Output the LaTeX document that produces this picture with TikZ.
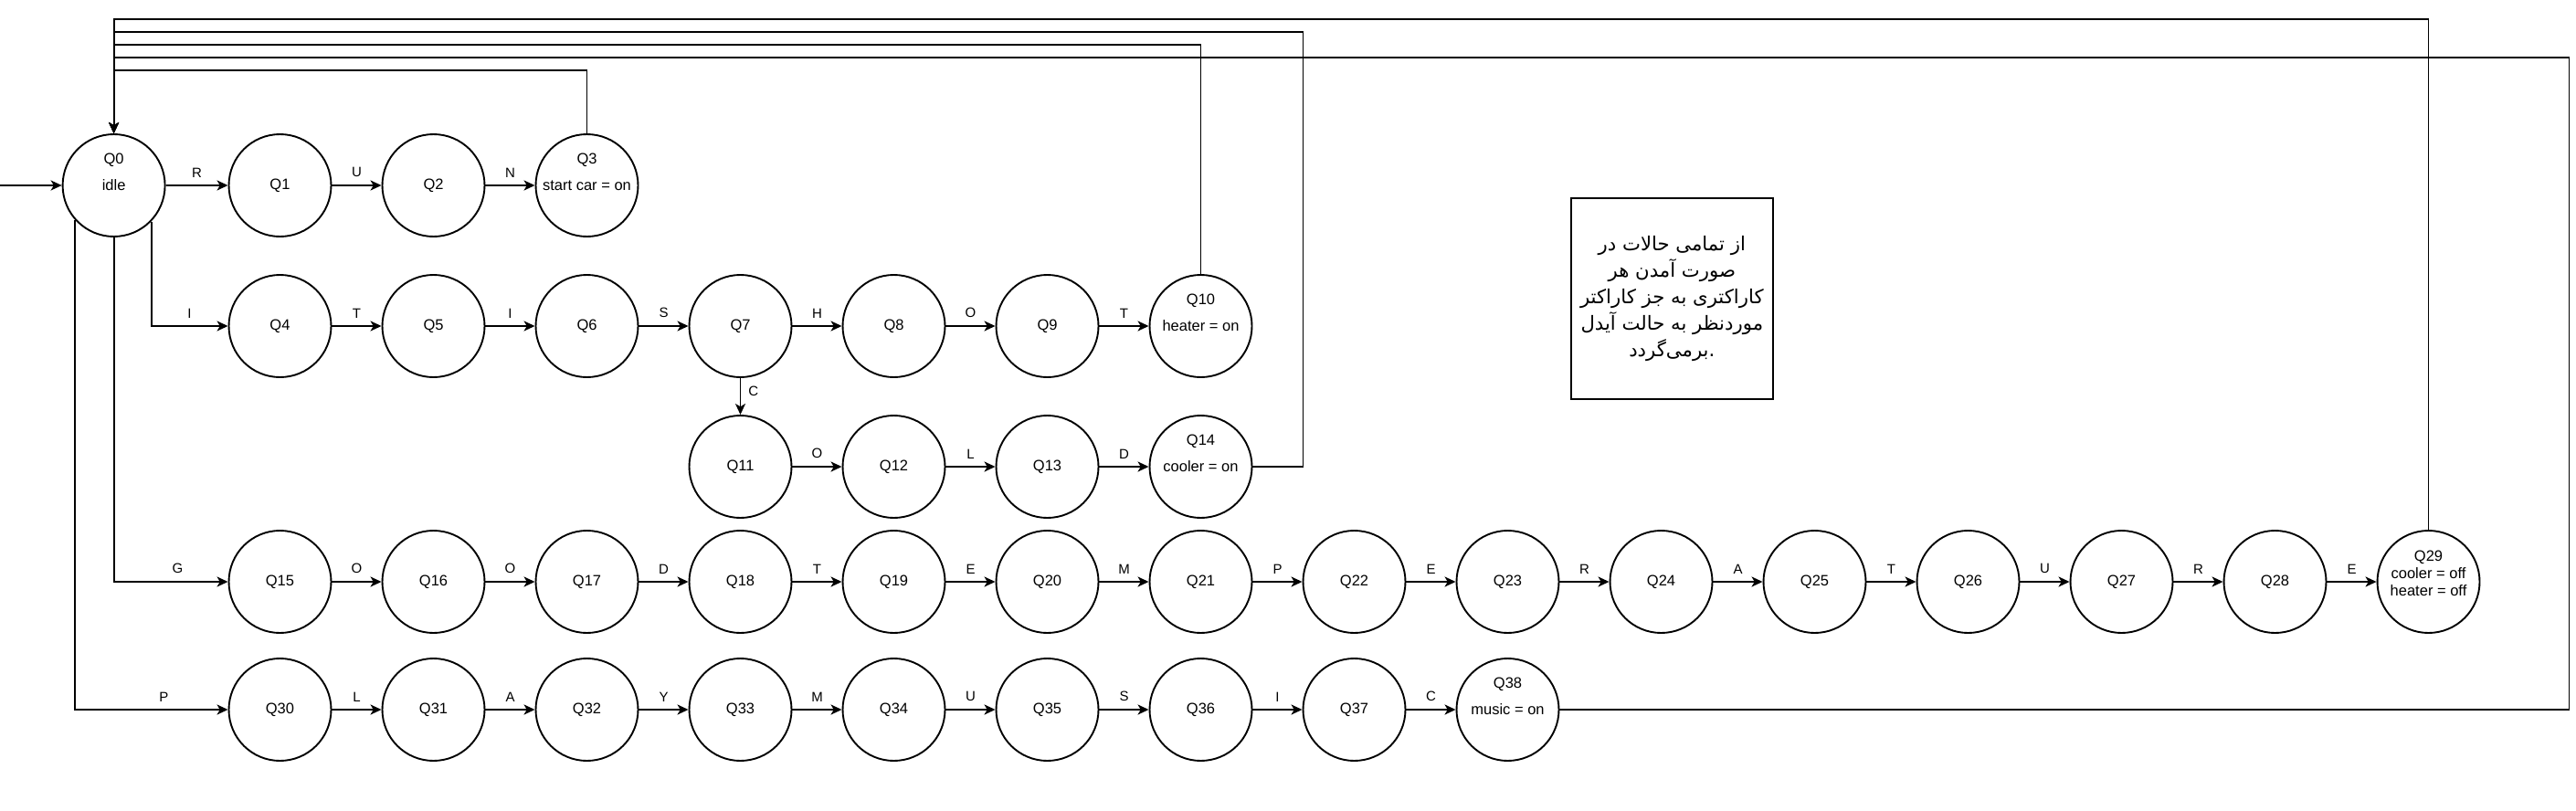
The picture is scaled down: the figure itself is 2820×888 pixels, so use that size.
\documentclass[tikz,border=0pt]{standalone}
\usepackage{fontspec}
\setmainfont{Liberation Sans}
\newfontfamily\persianfont[Script=Arabic]{DejaVu Sans}
\TeXXeTstate=1
\usetikzlibrary{arrows.meta}
\begin{document}
\begin{tikzpicture}[x=0.5pt,y=-0.5pt,
  st/.style={circle, draw, line width=0.95pt, minimum size=56pt, inner sep=0pt, font=\fontsize{8.25pt}{10pt}\selectfont},
  ed/.style={line width=0.95pt, -{Stealth[length=6pt,width=5.5pt,inset=1.6pt]}},
  lb/.style={font=\fontsize{7.5pt}{9pt}\selectfont, inner sep=0pt, above=4pt},
  lbr/.style={font=\fontsize{7.5pt}{9pt}\selectfont, inner sep=0pt, right=4pt},
  toptext/.style={label={[font=\fontsize{8.25pt}{10pt}\selectfont, yshift=13.75pt]center:#1}},
  notebox/.style={draw, line width=0.95pt, minimum width=110.5pt, minimum height=110pt, align=center, inner sep=0pt,
    font=\persianfont\fontsize{10.6pt}{14.5pt}\selectfont}
]
\useasboundingbox (0,0) rectangle (2820,888);

% states
\node[st, toptext=Q0] (q0) at (124.6,203) {idle};
\node[st] (q1) at (306.5,203) {Q1};
\node[st] (q2) at (474.5,203) {Q2};
\node[st, toptext=Q3] (q3) at (642.5,203) {start car = on};

\foreach \n [count=\c] in {4,5,6,7,8,9}
  \node[st] (q\n) at ({306.5+168*(\c-1)},357) {Q\n};
\node[st, toptext=Q10] (q10) at (1314.5,357) {heater = on};

\node[st] (q11) at (810.5,511) {Q11};
\node[st] (q12) at (978.5,511) {Q12};
\node[st] (q13) at (1146.5,511) {Q13};
\node[st, toptext=Q14] (q14) at (1314.5,511) {cooler = on};

\foreach \n [count=\c] in {15,...,28}
  \node[st] (q\n) at ({306.5+168*(\c-1)},637) {Q\n};
\node[st, label={[align=center, inner sep=0pt, font=\fontsize{8.25pt}{9.5pt}\selectfont, yshift=4.5pt]center:{Q29\\cooler = off\\heater = off}}] (q29) at (2658.5,637) {};

\foreach \n [count=\c] in {30,...,37}
  \node[st] (q\n) at ({306.5+168*(\c-1)},777) {Q\n};
\node[st, toptext=Q38] (q38) at (1650.5,777) {music = on};

% note
\node[notebox] (note) at (1830.3,327) {%
\beginR از تمامی حالات در\endR\\
\beginR صورت آمدن هر\endR\\
\beginR کاراکتری به جز کاراکتر\endR\\
\beginR موردنظر به حالت آیدل\endR\\
\beginR .برمی‌گردد\endR};

% start
\coordinate (start) at (0,203);
\draw[ed] (start) -- (q0);

% row 1
\draw[ed] (q0) -- node[lb]{R} (q1);
\draw[ed] (q1) -- node[lb]{U} (q2);
\draw[ed] (q2) -- node[lb]{N} (q3);

% row 2
\draw[ed] (q0.-44) |- node[lb, pos=0.75]{I} (q4);
\foreach \a/\b/\l in {4/5/T,5/6/I,6/7/S,7/8/H,8/9/O,9/10/T}
  \draw[ed] (q\a) -- node[lb]{\l} (q\b);

% row 3
\draw[ed] (q7) -- node[lbr, pos=0.35]{C} (q11);
\foreach \a/\b/\l in {11/12/O,12/13/L,13/14/D}
  \draw[ed] (q\a) -- node[lb]{\l} (q\b);

% row 4
\draw[ed] (q0.south) |- node[lb, pos=0.78]{G} (q15);
\foreach \a/\b/\l in {15/16/O,16/17/O,17/18/D,18/19/T,19/20/E,20/21/M,21/22/P,22/23/E,23/24/R,24/25/A,25/26/T,26/27/U,27/28/R,28/29/E}
  \draw[ed] (q\a) -- node[lb]{\l} (q\b);

% row 5
\draw[ed] (q0.-138) |- node[lb, pos=0.79]{P} (q30);
\foreach \a/\b/\l in {30/31/L,31/32/A,32/33/Y,33/34/M,34/35/U,35/36/S,36/37/I,37/38/C}
  \draw[ed] (q\a) -- node[lb]{\l} (q\b);

% return edges
\coordinate (y21) at (0,21);
\coordinate (k14) at (1426.5,35);
\coordinate (y49) at (0,49);
\coordinate (k38) at (2812.5,63);
\coordinate (y77) at (0,77);
\draw[ed] (q29.north) -- (q29.north |- y21) -| (q0.north);
\draw[ed] (q14.east) -| (k14) -| (q0.north);
\draw[ed] (q10.north) -- (q10.north |- y49) -| (q0.north);
\draw[ed] (q38.east) -| (k38) -| (q0.north);
\draw[ed] (q3.north) -- (q3.north |- y77) -| (q0.north);
\end{tikzpicture}
\end{document}
